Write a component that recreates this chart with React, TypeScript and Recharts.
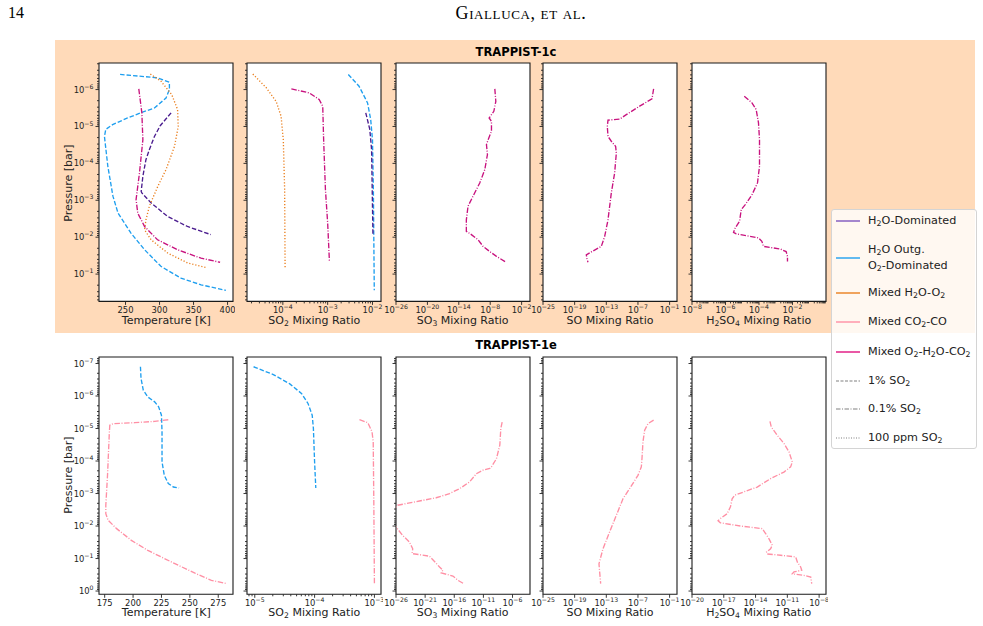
import React from "react";
import { LineChart, Line, XAxis, YAxis, ReferenceArea } from "recharts";

const SANS = "'DejaVu Sans', sans-serif";
const SERIF = "'Liberation Serif', 'DejaVu Serif', serif";
const INK = "#222";
const PEACH = "#ffdab9";

const PURPLE = "#4b1d8f";
const SKY = "#1f9fef";
const ORANGE = "#ea7f1e";
const PINK = "#ff8fa4";
const MAGENTA = "#c8137f";

// 1% / 0.1% / 100 ppm SO2 line styles
const DASHED = "4.5 2";
const DASHDOT = "5.5 1.6 1 1.6";
const DOTTED = "1.2 1.9";

// ---- TRAPPIST-1c profiles: [temperature K, log10 P bar] ----
const T1C_TEMP_H2O_DOM = [
  [317, -5.37], [301, -5.02], [292.5, -4.73], [285, -4.37], [280, -4.1], [275.5, -3.65],
  [273, -3.24], [274, -3.2], [287.5, -2.93], [312, -2.56], [341, -2.29], [375.5, -2.07],
];
const T1C_TEMP_O2_DOM = [
  [242, -6.41], [297, -6.32], [314.5, -6.2], [314.5, -6.0], [309.5, -5.77], [292.5, -5.5],
  [275, -5.39], [253, -5.23], [231, -5.05], [221, -4.92], [219, -4.73], [224, -3.92],
  [231.5, -3.11], [239, -2.65], [258, -2.11], [278, -1.66], [302, -1.21], [331.5, -0.89],
  [361, -0.71], [397.5, -0.56],
];
const T1C_TEMP_MIX_H2O_O2 = [
  [286.5, -6.42], [302, -6.23], [318, -5.86], [326.5, -5.46], [327.5, -5.0], [322, -4.46],
  [309.5, -3.83], [297.5, -3.38], [285, -2.84], [280, -2.47], [278, -2.2], [287.5, -1.93],
  [312, -1.57], [341.5, -1.3], [368, -1.18],
];
const T1C_TEMP_MIX_O2_H2O_CO2 = [
  [269.5, -6.02], [274, -5.37], [275.5, -4.64], [270.5, -3.74], [265.5, -3.02], [268, -2.65],
  [278, -2.29], [297, -1.93], [326.5, -1.66], [361, -1.43], [389, -1.32],
];

// ---- mixing ratios: [log10 mixing ratio, log10 P bar] ----
const T1C_SO2_H2O_DOM = [[-2.15, -5.37], [-2.06, -4.92], [-2.02, -4.37], [-2.0, -2.84], [-1.99, -2.07]];
const T1C_SO2_O2_DOM = [
  [-2.54, -6.41], [-2.3, -6.09], [-2.11, -5.64], [-2.04, -5.19], [-2.0, -4.64], [-1.98, -3.29], [-1.96, -0.56],
];
const T1C_SO2_MIX_H2O_O2 = [
  [-4.67, -6.42], [-4.37, -6.05], [-4.15, -5.68], [-4.04, -5.28], [-3.99, -4.64], [-3.96, -3.29], [-3.95, -1.18],
];
const T1C_SO2_MIX_O2_H2O_CO2 = [
  [-3.81, -6.02], [-3.41, -5.91], [-3.19, -5.73], [-3.11, -5.55], [-3.09, -4.64], [-3.05, -3.29],
  [-3.0, -2.38], [-2.96, -1.32],
];
const T1C_SO3_MIX_O2_H2O_CO2 = [
  [-7.12, -6.02], [-6.93, -5.68], [-7.31, -5.41], [-8.21, -5.23], [-7.76, -5.14], [-7.76, -4.87],
  [-8.4, -4.64], [-8.72, -4.51], [-8.53, -4.24], [-9.04, -3.83], [-10.0, -3.47], [-11.28, -3.11],
  [-12.24, -2.84], [-12.56, -2.47], [-12.56, -2.16], [-11.6, -2.07], [-10.32, -1.93], [-9.36, -1.75],
  [-8.08, -1.61], [-6.8, -1.48], [-5.07, -1.33],
];
const T1C_SO_MIX_O2_H2O_CO2 = [
  [-4.03, -6.02], [-4.34, -5.75], [-6.68, -5.55], [-9.21, -5.32], [-10.47, -5.2], [-12.68, -5.17],
  [-12.81, -5.0], [-12.68, -4.73], [-12.05, -4.6], [-11.23, -4.46], [-11.1, -4.28], [-11.42, -3.74],
  [-12.05, -3.2], [-12.68, -2.47], [-13.31, -2.02], [-13.95, -1.75], [-15.84, -1.6], [-16.79, -1.52],
  [-16.66, -1.41], [-16.47, -1.32],
];
const T1C_H2SO4_MIX_O2_H2O_CO2 = [
  [-4.88, -5.82], [-4.42, -5.64], [-4.17, -5.46], [-4.03, -5.1], [-3.97, -4.64], [-3.97, -3.92],
  [-4.09, -3.47], [-4.42, -3.15], [-4.82, -2.88], [-5.06, -2.75], [-5.16, -2.43], [-5.42, -2.25],
  [-5.52, -2.13], [-5.36, -2.09], [-4.03, -1.98], [-3.83, -1.89], [-3.73, -1.75], [-2.73, -1.68],
  [-2.38, -1.61], [-2.3, -1.48], [-2.3, -1.34],
];

// ---- TRAPPIST-1e profiles ----
const T1E_TEMP_O2_DOM = [
  [206.5, -6.9], [207, -6.54], [209, -6.18], [213, -5.97], [219, -5.82], [222.5, -5.67], [225, -5.41],
  [225.5, -4.9], [225.5, -3.97], [227.5, -3.56], [231, -3.31], [235.5, -3.2], [240.5, -3.17],
];
const T1E_TEMP_MIX_CO2_CO = [
  [231, -5.27], [219, -5.22], [201.5, -5.18], [182.5, -5.15], [179.5, -5.1], [179, -4.79], [177.5, -3.56],
  [176, -2.64], [176, -2.38], [178, -2.18], [185.5, -1.92], [198.5, -1.56], [213, -1.25], [234, -0.89],
  [254.5, -0.55], [269, -0.33], [282.5, -0.23],
];
const T1E_SO2_O2_DOM = [
  [-5.02, -6.9], [-4.69, -6.66], [-4.42, -6.38], [-4.22, -6.08], [-4.11, -5.77], [-4.04, -5.41],
  [-4.02, -5.0], [-4.0, -3.97], [-3.98, -3.17],
];
const T1E_SO2_MIX_CO2_CO = [[-3.25, -5.27], [-3.11, -5.18], [-3.04, -4.9], [-3.02, -4.59], [-3.01, -2.74], [-3.0, -0.23]];
const T1E_SO3_MIX_CO2_CO = [
  [-7.78, -5.2], [-8.01, -5.0], [-8.18, -4.49], [-8.76, -4.07], [-9.62, -3.82], [-9.91, -3.77],
  [-11.06, -3.72], [-12.21, -3.61], [-13.36, -3.36], [-15.08, -3.15], [-16.8, -3.0], [-19.1, -2.87],
  [-21.98, -2.77], [-24.28, -2.69], [-25.71, -2.64], [-27.5, -2.3], [-26, -1.97], [-24.85, -1.71],
  [-23.7, -1.51], [-23.13, -1.3], [-23.24, -1.15], [-21.98, -1.12], [-20.25, -1.07], [-19.39, -0.91],
  [-18.53, -0.74], [-17.95, -0.64], [-18.24, -0.56], [-16.23, -0.46], [-15.37, -0.33], [-14.39, -0.23],
];
const T1E_SO_MIX_CO2_CO = [
  [-4.03, -5.26], [-5.1, -5.15], [-5.73, -4.95], [-6.05, -4.59], [-6.24, -4.07], [-6.36, -3.82],
  [-7.0, -3.56], [-8.58, -3.15], [-9.84, -2.84], [-11.1, -2.33], [-12.37, -1.82], [-13.63, -1.3],
  [-14.39, -0.84], [-14.26, -0.59], [-14.07, -0.23],
];
const T1E_H2SO4_MIX_CO2_CO = [
  [-12.64, -5.22], [-12.52, -5.05], [-11.95, -4.79], [-11.32, -4.54], [-10.84, -4.28], [-10.53, -3.97],
  [-10.69, -3.82], [-11.32, -3.66], [-12.58, -3.46], [-13.84, -3.2], [-15.11, -3.05], [-15.96, -2.95],
  [-16.21, -2.84], [-16.37, -2.59], [-16.68, -2.38], [-17.32, -2.23], [-17.54, -2.16], [-17.32, -2.1],
  [-15.42, -2.0], [-13.37, -1.92], [-13.05, -1.77], [-12.74, -1.61], [-12.42, -1.41], [-12.58, -1.3],
  [-12.96, -1.2], [-12.9, -1.14], [-11.63, -1.1], [-10.21, -1.05], [-10.05, -0.89], [-9.74, -0.74],
  [-9.64, -0.64], [-10.37, -0.59], [-10.53, -0.53], [-9.42, -0.48], [-8.79, -0.43], [-8.7, -0.23],
];

// ---- axes ----
const T1C_P_RANGE = [-6.72, -0.26];
const T1E_P_RANGE = [-7.2, 0.1];
const T1C_TEMP_TICKS = [250, 300, 350, 400];
const T1E_TEMP_TICKS = [175, 200, 225, 250, 275];
const T1C_SO2_TICKS = [-4, -3, -2];
const T1E_SO2_TICKS = [-5, -4, -3];
const T1C_SO3_TICKS = [-26, -20, -14, -8, -2];
const T1E_SO3_TICKS = [-26, -21, -16, -11, -6];
const SO_TICKS = [-25, -19, -13, -7, -1];
const T1C_H2SO4_TICKS = [-8, -6, -4, -2];
const T1E_H2SO4_TICKS = [-20, -17, -14, -11, -8];

const COL_LEFT = [99.3, 247.3, 395.7, 543, 691.7];
const COL_W = 134;
const ROW_TOP = [63.3, 356.7];
const ROW_H = [238.4, 237.3];

const SUBS = [2, 3, 4, 5, 6, 7, 8, 9];

type Curve = { rows: number[][]; color: string; dash: string };
type PanelCfg = {
  xRange: number[];
  xLog: boolean;
  xTicks: number[];
  xMinor: boolean;
  curves: Curve[];
};

const minorTicks = (lo: number, hi: number) => {
  const out: number[] = [];
  for (let n = Math.floor(lo); n <= Math.ceil(hi); n++) {
    for (const k of SUBS) {
      const e = n + Math.log10(k);
      if (e > lo && e < hi) out.push(k * 10 ** n);
    }
  }
  return out;
};

const majorTicks = (lo: number, hi: number) => {
  const out: number[] = [];
  for (let n = Math.ceil(lo); n <= Math.floor(hi); n++) out.push(n);
  return out;
};

const toPoints = (rows: number[][], logX: boolean) =>
  rows.map(([a, b]) => ({ x: logX ? 10 ** a : a, p: 10 ** b }));

const isPow = (v: number, list: number[]) => list.some((m) => Math.abs(Math.log10(v) - m) < 1e-6);

function Pow({ x, y, e, anchor }: { x: number; y: number; e: number; anchor: string }) {
  return (
    <text x={x} y={y} textAnchor={anchor} fontFamily={SANS} fontSize={8.4} fill={INK}>
      10
      <tspan dy={-3.8} fontSize={6.2}>
        {e < 0 ? "\u2212" + -e : String(e)}
      </tspan>
    </text>
  );
}

const TOP_ROW: PanelCfg[] = [
  {
    xRange: [211, 408], xLog: false, xTicks: T1C_TEMP_TICKS, xMinor: false,
    curves: [
      { rows: T1C_TEMP_O2_DOM, color: SKY, dash: DASHED },
      { rows: T1C_TEMP_H2O_DOM, color: PURPLE, dash: DASHED },
      { rows: T1C_TEMP_MIX_H2O_O2, color: ORANGE, dash: DOTTED },
      { rows: T1C_TEMP_MIX_O2_H2O_CO2, color: MAGENTA, dash: DASHDOT },
    ],
  },
  {
    xRange: [-4.8, -1.81], xLog: true, xTicks: T1C_SO2_TICKS, xMinor: true,
    curves: [
      { rows: T1C_SO2_O2_DOM, color: SKY, dash: DASHED },
      { rows: T1C_SO2_H2O_DOM, color: PURPLE, dash: DASHED },
      { rows: T1C_SO2_MIX_H2O_O2, color: ORANGE, dash: DOTTED },
      { rows: T1C_SO2_MIX_O2_H2O_CO2, color: MAGENTA, dash: DASHDOT },
    ],
  },
  {
    xRange: [-26, -0.4], xLog: true, xTicks: T1C_SO3_TICKS, xMinor: false,
    curves: [{ rows: T1C_SO3_MIX_O2_H2O_CO2, color: MAGENTA, dash: DASHDOT }],
  },
  {
    xRange: [-25, 0.4], xLog: true, xTicks: SO_TICKS, xMinor: false,
    curves: [{ rows: T1C_SO_MIX_O2_H2O_CO2, color: MAGENTA, dash: DASHDOT }],
  },
  {
    xRange: [-8, 0], xLog: true, xTicks: T1C_H2SO4_TICKS, xMinor: true,
    curves: [{ rows: T1C_H2SO4_MIX_O2_H2O_CO2, color: MAGENTA, dash: DASHDOT }],
  },
];

const BOTTOM_ROW: PanelCfg[] = [
  {
    xRange: [170, 288], xLog: false, xTicks: T1E_TEMP_TICKS, xMinor: false,
    curves: [
      { rows: T1E_TEMP_O2_DOM, color: SKY, dash: DASHED },
      { rows: T1E_TEMP_MIX_CO2_CO, color: PINK, dash: DASHDOT },
    ],
  },
  {
    xRange: [-5.13, -2.89], xLog: true, xTicks: T1E_SO2_TICKS, xMinor: true,
    curves: [
      { rows: T1E_SO2_O2_DOM, color: SKY, dash: DASHED },
      { rows: T1E_SO2_MIX_CO2_CO, color: PINK, dash: DASHDOT },
    ],
  },
  {
    xRange: [-26, -3.0], xLog: true, xTicks: T1E_SO3_TICKS, xMinor: false,
    curves: [{ rows: T1E_SO3_MIX_CO2_CO, color: PINK, dash: DASHDOT }],
  },
  {
    xRange: [-25, 0.4], xLog: true, xTicks: SO_TICKS, xMinor: false,
    curves: [{ rows: T1E_SO_MIX_CO2_CO, color: PINK, dash: DASHDOT }],
  },
  {
    xRange: [-20, -7.35], xLog: true, xTicks: T1E_H2SO4_TICKS, xMinor: false,
    curves: [{ rows: T1E_H2SO4_MIX_CO2_CO, color: PINK, dash: DASHDOT }],
  },
];

const Sub = ({ c }: { c: string }) => (
  <span style={{ fontSize: "70%", position: "relative", top: "0.3em" }}>{c}</span>
);

const X_TITLES = [
  <>Temperature [K]</>,
  <>SO<Sub c="2" /> Mixing Ratio</>,
  <>SO<Sub c="3" /> Mixing Ratio</>,
  <>SO Mixing Ratio</>,
  <>H<Sub c="2" />SO<Sub c="4" /> Mixing Ratio</>,
];

const YW = 40;
const XH = 22;
const MT = 2;
const MR = 2;

function Panel({ cfg, col, row }: { cfg: PanelCfg; col: number; row: number }) {
  const left = COL_LEFT[col];
  const top = ROW_TOP[row];
  const h = ROW_H[row];
  const pr = row === 0 ? T1C_P_RANGE : T1E_P_RANGE;
  const yDomain = [10 ** pr[0], 10 ** pr[1]];
  const yMajor = majorTicks(pr[0], pr[1]);
  const yTicks = [...yMajor.map((e) => 10 ** e), ...minorTicks(pr[0], pr[1])];
  const [xl, xh] = cfg.xRange;
  const xDomain = cfg.xLog ? [10 ** xl, 10 ** xh] : [xl, xh];
  const xTicks = cfg.xLog
    ? [...cfg.xTicks.map((e) => 10 ** e), ...(cfg.xMinor ? minorTicks(xl, xh) : [])]
    : cfg.xTicks;

  const renderYTick = (p: any) => {
    const { x, y, payload } = p;
    const major = isPow(payload.value, yMajor);
    return (
      <g>
        <line x1={x - (major ? 3.5 : 2)} x2={x} y1={y} y2={y} stroke={INK} strokeWidth={0.9} />
        {major && col === 0 && (
          <Pow x={x - 5.5} y={y + 3} e={Math.round(Math.log10(payload.value))} anchor="end" />
        )}
      </g>
    );
  };

  const renderXTick = (p: any) => {
    const { x, y, payload } = p;
    const v = payload.value;
    const major = cfg.xLog ? isPow(v, cfg.xTicks) : true;
    return (
      <g>
        <line x1={x} x2={x} y1={y} y2={y + (major ? 3.5 : 2)} stroke={INK} strokeWidth={0.9} />
        {major &&
          (cfg.xLog ? (
            <Pow x={x} y={y + 11.5} e={Math.round(Math.log10(v))} anchor="middle" />
          ) : (
            <text x={x} y={y + 11.5} textAnchor="middle" fontFamily={SANS} fontSize={8.4} fill={INK}>
              {v}
            </text>
          ))}
      </g>
    );
  };

  return (
    <>
      <div
        style={{ position: "absolute", left, top, width: COL_W, height: h, background: "#fff" }}
      />
      <div style={{ position: "absolute", left: left - YW, top: top - MT }}>
        <LineChart
          width={YW + COL_W + MR}
          height={MT + h + XH}
          margin={{ top: MT, right: MR, bottom: 0, left: 0 }}
          style={{ overflow: "visible" }}
        >
          <XAxis
            type="number"
            dataKey="x"
            scale={cfg.xLog ? "log" : "linear"}
            domain={xDomain}
            allowDataOverflow
            ticks={xTicks}
            interval={0}
            tickSize={0}
            tickMargin={0}
            axisLine={false}
            tickLine={false}
            height={XH}
            tick={renderXTick}
          />
          <YAxis
            type="number"
            dataKey="p"
            scale="log"
            domain={yDomain}
            reversed
            allowDataOverflow
            ticks={yTicks}
            interval={0}
            tickSize={0}
            tickMargin={0}
            axisLine={false}
            tickLine={false}
            width={YW}
            tick={renderYTick}
          />
          {cfg.curves.map((c, i) => (
            <Line
              key={i}
              data={toPoints(c.rows, cfg.xLog)}
              dataKey="p"
              stroke={c.color}
              strokeWidth={1.35}
              strokeDasharray={c.dash}
              dot={false}
              activeDot={false}
              isAnimationActive={false}
            />
          ))}
          <ReferenceArea
            x1={xDomain[0]}
            x2={xDomain[1]}
            y1={yDomain[0]}
            y2={yDomain[1]}
            fill="none"
            stroke="#1a1a1a"
            strokeWidth={1.1}
            ifOverflow="visible"
          />
        </LineChart>
      </div>
      <div
        style={{
          position: "absolute",
          left: left - 10,
          width: COL_W + 20,
          top: top + h + 13,
          textAlign: "center",
          fontFamily: SANS,
          fontSize: 11,
          lineHeight: "12px",
          color: INK,
          whiteSpace: "nowrap",
        }}
      >
        {X_TITLES[col]}
      </div>
    </>
  );
}

const LEGEND_ITEMS = [
  { y: 221, color: "#7d55bd", dash: "", label: <>H<Sub c="2" />O-Dominated</> },
  { y: 258, color: SKY, dash: "", label: <>H<Sub c="2" />O Outg.<br />O<Sub c="2" />-Dominated</> },
  { y: 293, color: ORANGE, dash: "", label: <>Mixed H<Sub c="2" />O-O<Sub c="2" /></> },
  { y: 322, color: PINK, dash: "", label: <>Mixed CO<Sub c="2" />-CO</> },
  { y: 351.5, color: "#e0107f", dash: "", label: <>Mixed O<Sub c="2" />-H<Sub c="2" />O-CO<Sub c="2" /></> },
  { y: 380.5, color: "#aaa", dash: "3 1.5", label: <>1% SO<Sub c="2" /></> },
  { y: 409, color: "#aaa", dash: "4.5 1.5 1 1.5", label: <>0.1% SO<Sub c="2" /></> },
  { y: 437.5, color: "#aaa", dash: "1 1.5", label: <>100 ppm SO<Sub c="2" /></> },
];

function Legend() {
  return (
    <div
      style={{
        position: "absolute",
        left: 831,
        top: 209,
        width: 146,
        height: 240,
        boxSizing: "border-box",
        border: "1px solid #d4d4d4",
        borderRadius: 3,
        background: "rgba(255,255,255,0.8)",
      }}
    >
      {LEGEND_ITEMS.map((it, i) => (
        <React.Fragment key={i}>
          <svg
            width={24}
            height={4}
            style={{ position: "absolute", left: 4, top: it.y - 209 - 3 }}
          >
            <line x1={0} x2={24} y1={2} y2={2} stroke={it.color} strokeWidth={1.4} strokeDasharray={it.dash || undefined} />
          </svg>
          <div
            style={{
              position: "absolute",
              left: 36,
              top: it.y - 209 - 1,
              transform: "translateY(-50%)",
              fontFamily: SANS,
              fontSize: 11.2,
              lineHeight: "15px",
              color: INK,
              whiteSpace: "nowrap",
            }}
          >
            {it.label}
          </div>
        </React.Fragment>
      ))}
    </div>
  );
}

const titleStyle: React.CSSProperties = {
  position: "absolute",
  left: 416,
  width: 200,
  textAlign: "center",
  fontFamily: SANS,
  fontWeight: "bold",
  fontSize: 11.5,
  lineHeight: "12px",
  color: "#000",
};

export default function App() {
  return (
    <div
      style={{
        position: "absolute",
        left: 0,
        top: 0,
        width: 983,
        height: 626,
        background: "#fff",
        overflow: "hidden",
      }}
    >
      <div style={{ position: "absolute", left: 8, top: 4, fontFamily: SERIF, fontSize: 16 }}>14</div>
      <div
        style={{
          position: "absolute",
          left: 421,
          width: 200,
          top: 3,
          textAlign: "center",
          fontFamily: SERIF,
          fontSize: 18,
          fontVariant: "small-caps",
          letterSpacing: 0.6,
        }}
      >
        Gialluca, et al.
      </div>
      <div style={{ position: "absolute", left: 55, top: 40, width: 920, height: 293.3, background: PEACH }} />
      <div style={{ ...titleStyle, top: 46 }}>TRAPPIST-1c</div>
      <div style={{ ...titleStyle, top: 339 }}>TRAPPIST-1e</div>
      {[0, 1].map((row) => (
        <div
          key={row}
          style={{
            position: "absolute",
            left: 68,
            top: ROW_TOP[row] + ROW_H[row] / 2,
            transform: "translate(-50%, -50%) rotate(-90deg)",
            fontFamily: SANS,
            fontSize: 11,
            whiteSpace: "nowrap",
            color: INK,
          }}
        >
          Pressure [bar]
        </div>
      ))}
      {TOP_ROW.map((cfg, col) => (
        <Panel key={"c" + col} cfg={cfg} col={col} row={0} />
      ))}
      {BOTTOM_ROW.map((cfg, col) => (
        <Panel key={"e" + col} cfg={cfg} col={col} row={1} />
      ))}
      <Legend />
    </div>
  );
}
